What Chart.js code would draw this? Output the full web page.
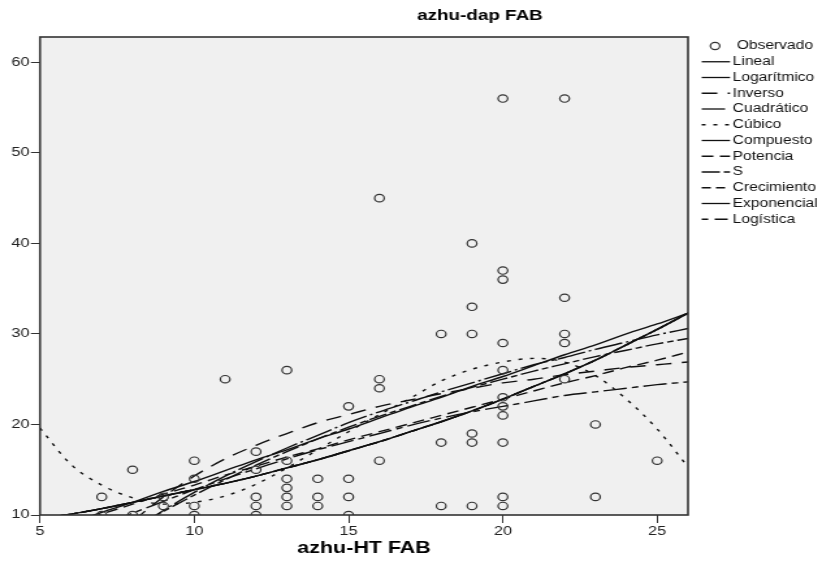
<!DOCTYPE html>
<html>
<head>
<meta charset="utf-8">
<script src="https://cdn.jsdelivr.net/npm/chart.js@4.4.0/dist/chart.umd.min.js"></script>
<style>
  html, body { margin:0; padding:0; background:#fff; overflow:hidden; }
  /* the plot is drawn narrow and widened, like the exported SPSS image */
  #wrap { width:632px; height:566px; transform:scaleX(1.3006); transform-origin:0 0; }
</style>
</head>
<body>
<div id="wrap"><canvas id="fab"></canvas></div>
<script>
const obsX = [7,7,8,8,9,9,10,10,10,10,11,12,12,12,12,12,13,13,13,13,13,13,14,14,14,15,15,15,15,16,16,16,16,18,18,18,19,19,19,19,19,19,20,20,20,20,20,20,20,20,20,20,20,22,22,22,22,22,23,23,25];
const obsY = [12,10,15,10,12,11,16,14,11,10,25,17,15,12,11,10,26,16,14,13,12,11,14,12,11,22,14,12,10,45,25,24,16,30,18,11,40,33,30,19,18,11,56,37,36,29,26,23,22,21,18,12,11,56,34,30,29,25,20,12,16];

// fitted curves, one value per whole HT from 5 to 26
const fitX = [5,6,7,8,9,10,11,12,13,14,15,16,17,18,19,20,21,22,23,24,25,26];
const lineal      = [7.9,9.1,10.3,11.4,12.6,13.7,14.9,16.1,17.2,18.4,19.5,20.7,21.9,23.0,24.2,25.3,26.5,27.7,28.8,30.0,31.1,32.3];
const logaritmico = [-0.7,2.7,5.7,8.2,10.5,12.5,14.3,15.9,17.4,18.8,20.2,21.4,22.5,23.6,24.6,25.6,26.6,27.4,28.3,29.1,29.9,30.6];
const inverso     = [-6.2,0.6,5.5,9.2,12.0,14.3,16.2,17.7,19.0,20.2,21.1,22.0,22.7,23.4,24.0,24.6,25.0,25.5,25.9,26.3,26.6,26.9];
const cuadratico  = [5.9,7.4,8.8,10.2,11.5,12.8,14.0,15.1,16.2,17.2,18.1,19.0,19.9,20.7,21.4,22.0,22.6,23.2,23.6,24.0,24.4,24.7];
const cubico      = [19.6,15.6,13.3,11.9,11.2,11.4,12.1,13.4,15.2,17.2,19.2,21.1,22.9,24.8,26.1,26.9,27.3,26.9,25.4,22.8,19.5,15.3];
const potencia    = [7.8,9.0,10.1,11.2,12.3,13.3,14.4,15.4,16.4,17.3,18.3,19.2,20.1,21.0,21.9,22.8,23.7,24.6,25.4,26.3,27.1,28.0];
const curvaS      = [2.9,4.7,6.6,8.6,10.4,12.2,13.9,15.5,17.0,18.4,19.7,20.9,22.0,23.1,24.1,25.0,25.9,26.7,27.5,28.2,28.9,29.5];
const exponencial = [9.6,10.1,10.7,11.4,12.1,12.8,13.5,14.3,15.2,16.1,17.1,18.1,19.2,20.3,21.5,22.8,24.2,25.6,27.1,28.8,30.5,32.3];

const fits = [
  { label:'Lineal',      y:lineal,      dash:[] },
  { label:'Logarítmico', y:logaritmico, dash:[22,3,2,3] },
  { label:'Inverso',     y:inverso,     dash:[12,8] },
  { label:'Cuadrático',  y:cuadratico,  dash:[18,4,5,4] },
  { label:'Cúbico',      y:cubico,      dash:[3,6] },
  { label:'Compuesto',   y:exponencial, dash:[24,3,2,3] },
  { label:'Potencia',    y:potencia,    dash:[9,5] },
  { label:'S',           y:curvaS,      dash:[14,3,5,3] },
  { label:'Crecimiento', y:exponencial, dash:[7,4] },
  { label:'Exponencial', y:exponencial, dash:[] },
  { label:'Logística',   y:exponencial, dash:[5,5,10,5] },
];

const FONT = "'Liberation Sans', Arial, sans-serif";

const spssFrame = {
  id: 'spssFrame',
  beforeDraw(chart) {
    const {ctx, chartArea:a} = chart;
    ctx.save();
    ctx.fillStyle = '#f0f0f0';
    ctx.fillRect(a.left, a.top, a.right - a.left, a.bottom - a.top);
    ctx.restore();
  },
  afterDraw(chart) {
    const {ctx, chartArea:a} = chart;
    ctx.save();
    ctx.strokeStyle = '#333'; ctx.lineWidth = 1.6;
    ctx.strokeRect(a.left, a.top, a.right - a.left, a.bottom - a.top);

    ctx.fillStyle = '#000';
    ctx.textAlign = 'center'; ctx.textBaseline = 'middle';
    ctx.font = 'bold 14.5px ' + FONT;
    ctx.fillText('azhu-dap FAB', 369, 16);
    ctx.font = 'bold 16.5px ' + FONT;
    ctx.fillText('azhu-HT FAB', (a.left + a.right) / 2, 548);

    // legend
    ctx.textAlign = 'left';
    ctx.font = '12px ' + FONT;
    ctx.fillStyle = '#111';
    chart.data.datasets.forEach((ds, i) => {
      const y = 46 + i * 15.75;
      if (i === 0) {
        ctx.beginPath(); ctx.arc(549.8, y, 3.6, 0, Math.PI * 2);
        ctx.setLineDash([]); ctx.lineWidth = 1.2; ctx.strokeStyle = '#333'; ctx.stroke();
        ctx.fillText(ds.label, 566.4, y);
        return;
      }
      ctx.beginPath(); ctx.moveTo(539.5, y); ctx.lineTo(561.3, y);
      ctx.setLineDash(ds.borderDash); ctx.lineWidth = 1.3; ctx.strokeStyle = '#111'; ctx.stroke();
      ctx.fillText(ds.label, 563.3, y);
    });
    ctx.restore();
  }
};

const datasets = [{
  label: 'Observado',
  data: obsX.map((x, i) => ({x, y: obsY[i]})),
  pointRadius: 3.7, pointBorderWidth: 1.2,
  borderColor: '#333', backgroundColor: 'rgba(0,0,0,0)',
  showLine: false,
}].concat(fits.map(f => ({
  label: f.label,
  data: fitX.map((x, i) => ({x, y: f.y[i]})),
  showLine: true, pointRadius: 0,
  borderColor: '#111', borderWidth: 1.4, borderDash: f.dash,
  cubicInterpolationMode: 'monotone',
})));

new Chart(document.getElementById('fab'), {
  type: 'scatter',
  data: { datasets },
  plugins: [spssFrame],
  options: {
    responsive: true, maintainAspectRatio: false, animation: false,
    layout: { padding: { left: 0, right: 103, top: 37, bottom: 0 } },
    plugins: { legend: { display: false }, tooltip: { enabled: false } },
    scales: {
      x: {
        type: 'linear', min: 5, max: 26,
        ticks: { stepSize: 5, includeBounds: false, color: '#222', padding: 1, maxRotation: 0,
                 font: { family: FONT, size: 12.5 } },
        grid: { drawOnChartArea: false, tickLength: 8, color: '#333' },
        border: { display: false },
        afterFit(s) { s.height = 51; },
      },
      y: {
        type: 'linear', min: 10, max: 62.8,
        ticks: { stepSize: 10, includeBounds: false, color: '#222', padding: 1,
                 font: { family: FONT, size: 12.5 } },
        grid: { drawOnChartArea: false, tickLength: 7, color: '#333' },
        border: { display: false },
        afterFit(s) { s.width = 30.75; },
      }
    }
  }
});
</script>
</body>
</html>
